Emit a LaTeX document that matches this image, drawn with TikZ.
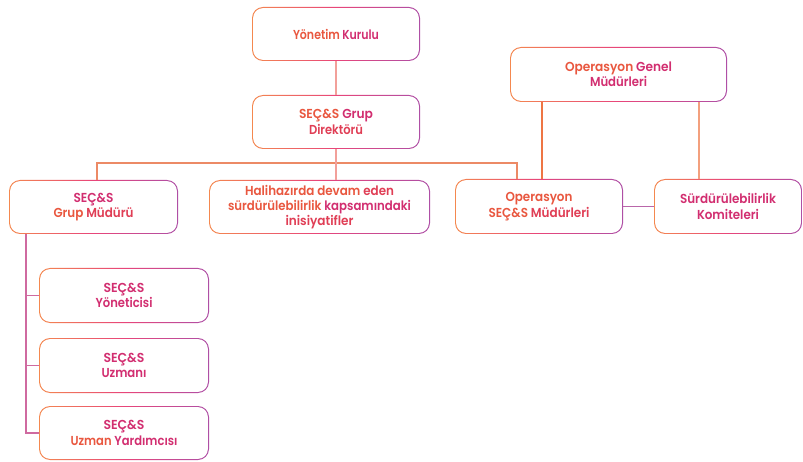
\documentclass[tikz,border=0pt]{standalone}
\usepackage{fontspec}
\usepackage{graphicx}
\setmainfont{Poppins}[BoldFont={Poppins SemiBold}]
\definecolor{bA}{HTML}{F4884F}
\definecolor{bM}{HTML}{E8457A}
\definecolor{bB}{HTML}{AE4FA6}
\definecolor{tA}{HTML}{E9573F}
\definecolor{tM}{HTML}{E03E55}
\definecolor{tB}{HTML}{D22E70}
\definecolor{lPink}{HTML}{F2A09A}
\definecolor{lBus}{HTML}{EC8A66}
\definecolor{lOrg}{HTML}{EE7544}
\definecolor{lSal}{HTML}{F3A07E}
\definecolor{lPur}{HTML}{B966AA}
\definecolor{lCol}{HTML}{CF6AA0}
\newlength\fitlen
\newcommand\fitw[2]{\settowidth\fitlen{#2}\pgfmathsetmacro\fitf{#1/\fitlen}\scalebox{\fitf}[1]{#2}}
\tikzset{
  gbox/.style={rectangle, rounded corners=11pt, align=center, inner sep=2pt,
    font=\bfseries\fontsize{13}{15.3}\selectfont,
    path picture={
      \shade[left color=bA, right color=bB, middle color=bM]
        (path picture bounding box.south west) rectangle (path picture bounding box.north east);
      \fill[white, rounded corners=10pt]
        ([shift={(1.1pt,1.1pt)}]path picture bounding box.south west) rectangle
        ([shift={(-1.1pt,-1.1pt)}]path picture bounding box.north east);
    }},
  conn/.style={line width=1.1pt}
}
\begin{document}
\begin{tikzpicture}[x=1pt,y=-1pt]
\useasboundingbox (0,0) rectangle (803,462);
\node[gbox, minimum width=168pt, minimum height=54pt] (yk) at (336,34)
  {\fitw{86}{\textcolor{tA}{Yönetim} \textcolor{tB}{Kurulu}}};
\node[gbox, minimum width=168pt, minimum height=54pt] (gd) at (336,122)
  {\fitw{74}{\textcolor{tA}{SEÇ\&S} \textcolor{tB}{Grup}}\\ \fitw{54}{\textcolor{tM}{Direktörü}}};
\node[gbox, minimum width=169pt, minimum height=54pt] (gm) at (93.5,207)
  {\fitw{40}{\textcolor{tB}{SEÇ\&S}}\\ \fitw{80}{\textcolor{tA}{Grup} \textcolor{tM}{Müdürü}}};
\node[gbox, minimum width=221pt, minimum height=54pt] (hh) at (319.5,207)
  {\fitw{149}{\textcolor{tA}{Halihazırda devam} \textcolor{tM}{eden}}\\ \fitw{183}{\textcolor{tA}{sürdürülebilirlik} \textcolor{tB}{kapsamındaki}}\\ \fitw{68}{\textcolor{tM}{inisiyatifler}}};
\node[gbox, minimum width=217pt, minimum height=55pt] (ogm) at (618.5,74.5)
  {\fitw{107}{\textcolor{tA}{Operasyon} \textcolor{tB}{Genel}}\\ \fitw{57}{\textcolor{tB}{Müdürleri}}};
\node[gbox, minimum width=168pt, minimum height=55pt] (osm) at (539,206.5)
  {\fitw{67}{\textcolor{tA}{Operasyon}}\\ \fitw{101}{\textcolor{tA}{SEÇ\&S} \textcolor{tM}{Müdürleri}}};
\node[gbox, minimum width=148pt, minimum height=55pt] (sk) at (728,206.5)
  {\fitw{96}{\textcolor{tB}{Sürdürülebilirlik}}\\ \fitw{62}{\textcolor{tB}{Komiteleri}}};
\node[gbox, minimum width=170pt, minimum height=55pt] (sy) at (124,295.5)
  {\fitw{41}{\textcolor{tB}{SEÇ\&S}}\\ \fitw{57}{\textcolor{tB}{Yöneticisi}}};
\node[gbox, minimum width=170pt, minimum height=55pt] (su) at (124,365.5)
  {\fitw{41}{\textcolor{tB}{SEÇ\&S}}\\ \fitw{45}{\textcolor{tB}{Uzmanı}}};
\node[gbox, minimum width=170pt, minimum height=54pt] (sua) at (124,433)
  {\fitw{41}{\textcolor{tB}{SEÇ\&S}}\\ \fitw{107}{\textcolor{tA}{Uzman} \textcolor{tB}{Yardımcısı}}};
% connectors
\coordinate (bus) at (336,163);
\draw[conn, lPink] (yk.south) -- (gd.north);
\draw[conn, lBus] ([xshift=3.5pt]gm.north) |- (bus) -| ([xshift=-22pt]osm.north);
\draw[conn, lPink] (gd.south) -- (gd.south |- hh.north);
\draw[conn, lOrg] ([xshift=3pt]osm.north) -- ([xshift=3pt]osm.north |- ogm.south);
\draw[conn, lSal] ([xshift=-29pt]sk.north) -- ([xshift=-29pt]sk.north |- ogm.south);
\draw[conn, lPur] (osm.east) -- (sk.west);
\coordinate (lc) at ([xshift=-67.5pt]gm.south);
\draw[conn, lCol] (lc) |- (sua.west);
\draw[conn, lCol] (lc |- sy.west) -- (sy.west);
\draw[conn, lCol] (lc |- su.west) -- (su.west);
\end{tikzpicture}
\end{document}
